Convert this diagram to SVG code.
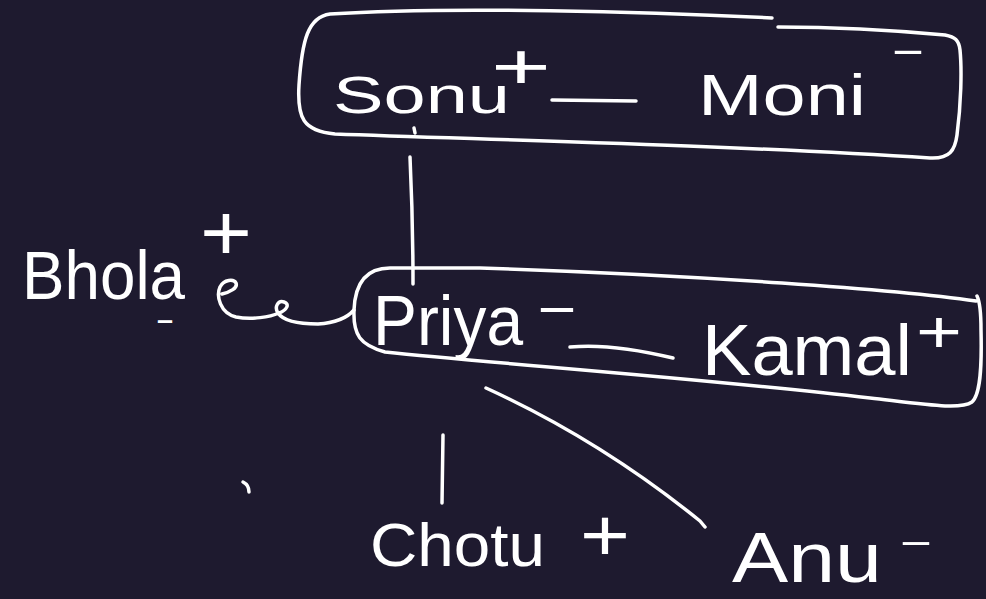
<svg xmlns="http://www.w3.org/2000/svg" width="986" height="599" viewBox="0 0 986 599">
<style>
.bg{fill:#1e1a2f}
.ln{fill:none;stroke:#ffffff;stroke-width:3.5;stroke-linecap:round;stroke-linejoin:round}
.t{fill:#ffffff;font-family:"Liberation Sans",Arial,sans-serif}
</style>
<rect class="bg" x="0" y="0" width="986" height="599"/>

<g id="couple-sonu-moni">
<path class="ln" d="M772,18 C650,12 450,6 330,14 C308,17 302,40 299,85 C297,118 303,131 335,134 C500,140 750,146 930,158 C950,159 955,150 957,135 C961,105 962,70 960,50 C959,40 955,37 945,35 C880,29 820,27 778,27"/>
<path class="ln" d="M414,128 L415,133"/>
</g>
<g id="sonu">
<text class="t" x="333" y="113" font-size="52" textLength="177" lengthAdjust="spacingAndGlyphs">Sonu</text>
<text class="t" x="521" y="89" font-size="64" text-anchor="middle" textLength="60" lengthAdjust="spacingAndGlyphs">+</text>
</g>
<g id="moni">
<text class="t" x="698" y="115" font-size="58" textLength="168" lengthAdjust="spacingAndGlyphs">Moni</text>
<text class="t" x="908" y="63" font-size="40" text-anchor="middle" textLength="36" lengthAdjust="spacingAndGlyphs">-</text>
</g>

<g id="bhola">
<text class="t" x="22" y="299" font-size="68" textLength="163" lengthAdjust="spacingAndGlyphs">Bhola</text>
<text class="t" x="226" y="260" font-size="80" text-anchor="middle" textLength="52" lengthAdjust="spacingAndGlyphs">+</text>
<text class="t" x="165" y="326" font-size="14" text-anchor="middle" textLength="13.5" lengthAdjust="spacingAndGlyphs" stroke="#ffffff" stroke-width="1.5">-</text>
</g>

<g id="couple-priya-kamal">
<path class="ln" d="M976,301 C900,290 700,275 480,268 L390,268 C365,268 355,285 354,310 C353,335 360,345 385,352 C500,364 700,378 870,398 C930,405 960,410 972,402 C980,395 982,370 981,330 C981,312 980,302 977,296"/>
</g>
<g id="priya">
<text class="t" x="373" y="345" font-size="70" textLength="150" lengthAdjust="spacingAndGlyphs">Priya</text>
<text class="t" x="557" y="323" font-size="50" text-anchor="middle" textLength="44" lengthAdjust="spacingAndGlyphs">-</text>
</g>
<g id="kamal">
<text class="t" x="702" y="375" font-size="72" textLength="210" lengthAdjust="spacingAndGlyphs">Kamal</text>
<text class="t" x="939" y="352" font-size="60" text-anchor="middle" textLength="46" lengthAdjust="spacingAndGlyphs">+</text>
</g>

<g id="chotu">
<text class="t" x="370" y="566" font-size="62" textLength="175" lengthAdjust="spacingAndGlyphs">Chotu</text>
<text class="t" x="605" y="561" font-size="74" text-anchor="middle" textLength="50" lengthAdjust="spacingAndGlyphs">+</text>
</g>
<g id="anu">
<text class="t" x="732" y="582" font-size="70" textLength="150" lengthAdjust="spacingAndGlyphs">Anu</text>
<text class="t" x="916" y="553" font-size="36" text-anchor="middle" textLength="36" lengthAdjust="spacingAndGlyphs">-</text>
</g>

<g id="connectors">
<path class="ln" d="M410,157 C412,200 413,240 413,284"/>
<path class="ln" d="M552,100 L636,101"/>
<path class="ln" d="M570,347 C600,344 640,350 673,358"/>
<path class="ln" d="M222,294 C230,292 238,288 236,283 C234,279 224,279 220,287 C216,296 220,313 236,317 C252,320 270,317 279,313 C287,310 290,304 284,302 C278,300 274,307 278,313 C284,322 300,324 318,324 C335,323 347,318 354,310"/>
<path class="ln" d="M443,435 L442,503"/>
<path class="ln" d="M486,388 Q600,440 700,521 L705,527"/>
<path class="ln" d="M243,482 C247,484 249,488 249,492"/>
</g>
</svg>
